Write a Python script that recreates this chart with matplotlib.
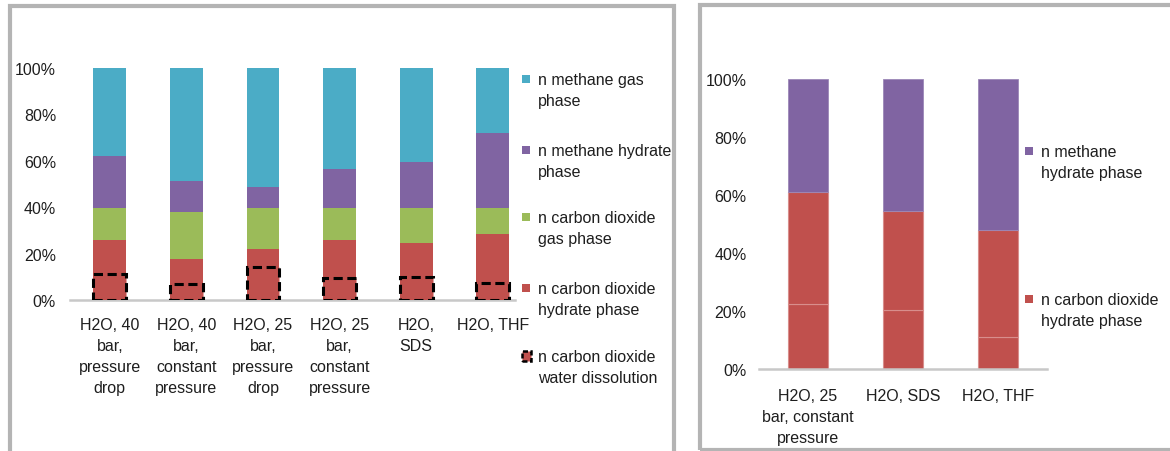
import matplotlib.pyplot as plt
from matplotlib.patches import Rectangle

plt.rcParams['font.family'] = ['Liberation Sans', 'DejaVu Sans']

# Left chart: gas/hydrate split of methane and carbon dioxide (percent of total)
left_cats = ['H2O, 40\nbar,\npressure\ndrop', 'H2O, 40\nbar,\nconstant\npressure',
             'H2O, 25\nbar,\npressure\ndrop', 'H2O, 25\nbar,\nconstant\npressure',
             'H2O,\nSDS', 'H2O, THF']
co2_dissolved = [11.1, 7.1, 14.4, 9.6, 9.8, 7.2]
co2_hydrate = [14.8, 10.5, 7.5, 16.3, 14.6, 21.4]
co2_gas = [13.7, 20.4, 17.7, 13.7, 15.3, 11.1]
ch4_hydrate = [22.4, 13.2, 9.2, 16.7, 19.9, 32.3]
ch4_gas = [38.0, 48.8, 51.2, 43.7, 40.4, 28.0]

# Right chart: composition of the hydrate phase only
right_cats = ['H2O, 25\nbar, constant\npressure', 'H2O, SDS', 'H2O, THF']
hyd_co2_lower = [22.4, 20.3, 10.9]
hyd_co2_upper = [38.7, 34.2, 37.0]
hyd_ch4 = [38.9, 45.5, 52.1]

yticks = [0, 20, 40, 60, 80, 100]
ytick_labels = ['0%', '20%', '40%', '60%', '80%', '100%']

BLUE = '#4bacc6'
PURPLE = '#8064a2'
GREEN = '#9bbb59'
RED = '#c0504d'
TEXT = '#1e1e1e'
FS = 11.5
LS = 1.5

W, H = 1170, 452
fig = plt.figure(figsize=(W / 100, H / 100), dpi=100)


def fx(x):
    return x / W


def fy(y):
    return 1 - y / H


# panel frames
for x0, x1, y0, y1 in [(9.5, 673.5, 7, 470), (700, 1200, 6, 450.5)]:
    fig.patches.append(Rectangle((fx(x0), fy(y1)), fx(x1 - x0), (y1 - y0) / H,
                                 transform=fig.transFigure, fill=False,
                                 edgecolor='#b4b4b4', lw=3, zorder=0))


def style_axes(ax):
    for side in ['top', 'right', 'left']:
        ax.spines[side].set_visible(False)
    ax.spines['bottom'].set_color('#c8c8c8')
    ax.spines['bottom'].set_linewidth(1.8)
    ax.set_ylim(0, 100)
    ax.set_yticks(yticks)
    ax.set_yticklabels(ytick_labels, fontsize=FS, color=TEXT)
    ax.tick_params(axis='both', length=0)
    ax.set_facecolor('none')


# left chart
axl = fig.add_axes([fx(70), fy(301), fx(445), 232 / H])
style_axes(axl)
xl = list(range(len(left_cats)))
bw = 0.43
axl.bar(xl, co2_dissolved, bw, color=RED, edgecolor='black', lw=2.2,
        linestyle=(0, (3, 1.5)), zorder=3)
bottom = co2_dissolved[:]
for vals, col in [(co2_hydrate, RED), (co2_gas, GREEN), (ch4_hydrate, PURPLE), (ch4_gas, BLUE)]:
    axl.bar(xl, vals, bw, bottom=bottom, color=col, lw=0, zorder=2)
    bottom = [b + v for b, v in zip(bottom, vals)]
axl.bar(xl, co2_dissolved, bw, color=RED, lw=0, zorder=1)
axl.set_xlim(-0.52, 5.29)
axl.set_xticks(xl)
axl.set_xticklabels(left_cats, fontsize=FS, color=TEXT, linespacing=LS)
axl.tick_params(axis='x', pad=12)
axl.tick_params(axis='y', pad=10)

# right chart
axr = fig.add_axes([fx(759), fy(370), fx(288), 290 / H])
style_axes(axr)
xr = list(range(len(right_cats)))
axr.bar(xr, hyd_co2_lower, bw, color=RED, edgecolor='#d88e8c', lw=0.8)
lower_top = hyd_co2_lower[:]
axr.bar(xr, hyd_co2_upper, bw, bottom=lower_top, color=RED, edgecolor='#d88e8c', lw=0.8)
red_top = [a + b for a, b in zip(hyd_co2_lower, hyd_co2_upper)]
axr.bar(xr, hyd_ch4, bw, bottom=red_top, color=PURPLE, edgecolor='#9c88b8', lw=0.6)
axr.set_xlim(-0.516, 2.516)
axr.set_xticks(xr)
axr.set_xticklabels(right_cats, fontsize=FS, color=TEXT, linespacing=LS)
axr.tick_params(axis='x', pad=14)
axr.tick_params(axis='y', pad=9)


def legend_entry(x, y, color, label, dashed=False):
    if dashed:
        sq = Rectangle((fx(x), fy(y + 5)), fx(9), 10 / H, transform=fig.transFigure,
                       facecolor=RED, edgecolor='black', lw=1.8, linestyle=(0, (2, 1)))
    else:
        sq = Rectangle((fx(x), fy(y + 4)), fx(8), 8 / H, transform=fig.transFigure,
                       facecolor=color, lw=0)
    fig.patches.append(sq)
    fig.text(fx(x + 16), fy(y - 7), label, fontsize=FS, color=TEXT,
             va='top', ha='left', linespacing=LS)


left_legend = [(80, BLUE, 'n methane gas\nphase'),
               (151, PURPLE, 'n methane hydrate\nphase'),
               (218, GREEN, 'n carbon dioxide\ngas phase'),
               (289, RED, 'n carbon dioxide\nhydrate phase')]
for y, col, lab in left_legend:
    legend_entry(522, y, col, lab)
legend_entry(522, 357, RED, 'n carbon dioxide\nwater dissolution', dashed=True)

legend_entry(1025, 152, PURPLE, 'n methane\nhydrate phase')
legend_entry(1025, 300, RED, 'n carbon dioxide\nhydrate phase')

fig.savefig('out.png', dpi=100)
